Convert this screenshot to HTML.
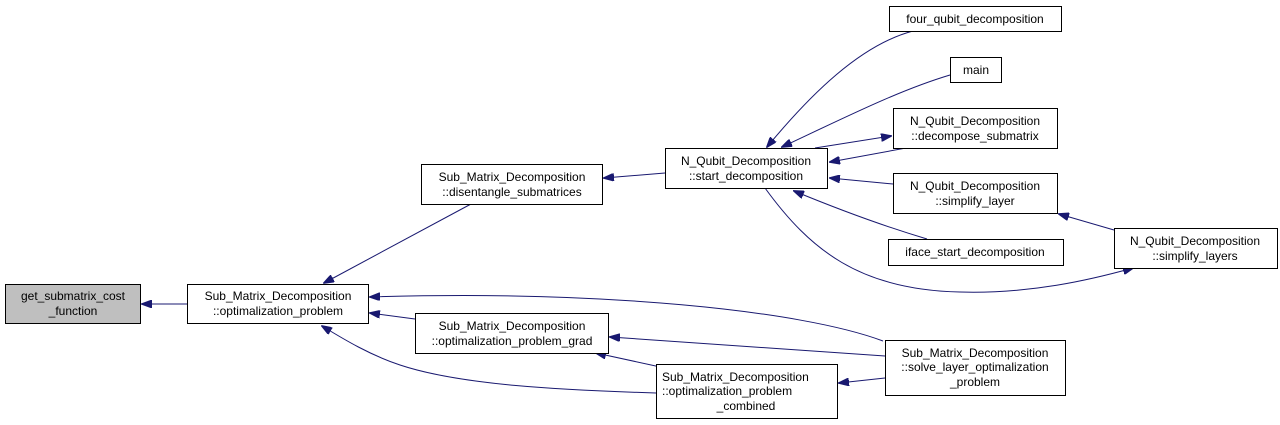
<!DOCTYPE html>
<html><head><meta charset="utf-8"><style>
body{margin:0;background:#fff}
svg{display:block}
text{font-family:"Liberation Sans",Helvetica,Arial,sans-serif;font-size:12px;fill:#000}
rect{fill:#fff;stroke:#000;stroke-width:1}
path{fill:none;stroke:#191970;stroke-width:1}
</style></head><body>
<svg width="1280" height="425" viewBox="0 0 1280 425">
<defs><marker id="a" markerWidth="11" markerHeight="8" refX="10" refY="4" orient="auto" markerUnits="userSpaceOnUse"><polygon points="0,0 11,4 0,8" fill="#191970" stroke="#191970"/></marker></defs>

<path d="M187,304 L142,304" marker-end="url(#a)"/>
<path d="M471,204 L324,283" marker-end="url(#a)"/>
<path d="M883,341 C800,310 600,290 370,297" marker-end="url(#a)"/>
<path d="M415,319 L370,313" marker-end="url(#a)"/>
<path d="M656,393 C560,390 460,385 400,365 C370,355 345,340 322,326" marker-end="url(#a)"/>
<path d="M665,173 L604,178" marker-end="url(#a)"/>
<path d="M885,356 L610,337" marker-end="url(#a)"/>
<path d="M665,368 L596,353" marker-end="url(#a)"/>
<path d="M885,378 L839,383" marker-end="url(#a)"/>
<path d="M913,31 C860,45 810,95 767,147" marker-end="url(#a)"/>
<path d="M950,75 C900,90 850,115 782,147" marker-end="url(#a)"/>
<path d="M815,148 L891,136" marker-end="url(#a)"/>
<path d="M906,148 L830,162" marker-end="url(#a)"/>
<path d="M893,184 L830,178" marker-end="url(#a)"/>
<path d="M927,239 C880,225 840,210 794,191" marker-end="url(#a)"/>
<path d="M765,188 C810,250 860,290 960,292 C1030,294 1090,280 1133,268" marker-end="url(#a)"/>
<path d="M1114,230 L1059,214" marker-end="url(#a)"/>

<rect x="5.5" y="284.5" width="135" height="39" style="fill:#bfbfbf"/>
<text x="73" y="300" text-anchor="middle">get_submatrix_cost</text>
<text x="73" y="315" text-anchor="middle">_function</text>

<rect x="187.5" y="284.5" width="181" height="39"/>
<text x="278" y="300" text-anchor="middle">Sub_Matrix_Decomposition</text>
<text x="278" y="315" text-anchor="middle">::optimalization_problem</text>

<rect x="421.5" y="164.5" width="181" height="40"/>
<text x="512" y="181" text-anchor="middle">Sub_Matrix_Decomposition</text>
<text x="512" y="196" text-anchor="middle">::disentangle_submatrices</text>

<rect x="415.5" y="313.5" width="193" height="40"/>
<text x="512" y="330" text-anchor="middle">Sub_Matrix_Decomposition</text>
<text x="512" y="345" text-anchor="middle">::optimalization_problem_grad</text>

<rect x="656.5" y="364.5" width="181" height="54"/>
<text x="662" y="381">Sub_Matrix_Decomposition</text>
<text x="662" y="395">::optimalization_problem</text>
<text x="746" y="410" text-anchor="middle">_combined</text>

<rect x="665.5" y="148.5" width="162" height="40"/>
<text x="746" y="165" text-anchor="middle">N_Qubit_Decomposition</text>
<text x="746" y="180" text-anchor="middle">::start_decomposition</text>

<rect x="889.5" y="6.5" width="172" height="25"/>
<text x="975" y="23" text-anchor="middle">four_qubit_decomposition</text>

<rect x="950.5" y="57.5" width="51" height="25"/>
<text x="976" y="74" text-anchor="middle">main</text>

<rect x="893.5" y="108.5" width="164" height="40"/>
<text x="975" y="125" text-anchor="middle">N_Qubit_Decomposition</text>
<text x="975" y="140" text-anchor="middle">::decompose_submatrix</text>

<rect x="893.5" y="173.5" width="164" height="40"/>
<text x="975" y="190" text-anchor="middle">N_Qubit_Decomposition</text>
<text x="975" y="205" text-anchor="middle">::simplify_layer</text>

<rect x="888.5" y="239.5" width="175" height="26"/>
<text x="975" y="256" text-anchor="middle">iface_start_decomposition</text>

<rect x="1114.5" y="228.5" width="163" height="40"/>
<text x="1195" y="245" text-anchor="middle">N_Qubit_Decomposition</text>
<text x="1195" y="260" text-anchor="middle">::simplify_layers</text>

<rect x="885.5" y="340.5" width="180" height="55"/>
<text x="975" y="357" text-anchor="middle">Sub_Matrix_Decomposition</text>
<text x="975" y="371" text-anchor="middle">::solve_layer_optimalization</text>
<text x="975" y="386" text-anchor="middle">_problem</text>
</svg>
</body></html>
